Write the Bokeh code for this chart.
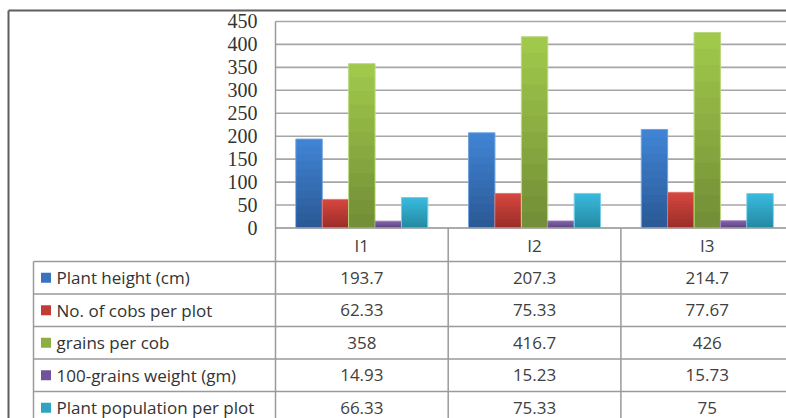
from bokeh.plotting import figure
from bokeh.models import Range1d, ColumnDataSource
from bokeh.core.properties import value
from bokeh.embed import file_html
from bokeh.resources import INLINE

# ---------------- data ----------------
categories = ["I1", "I2", "I3"]
series_names = ["Plant height (cm)", "No. of cobs per plot", "grains per cob",
                "100-grains weight (gm)", "Plant population per plot"]
plant_height = [193.7, 207.3, 214.7]
cobs_per_plot = [62.33, 75.33, 77.67]
grains_per_cob = [358, 416.7, 426]
grain_weight_100 = [14.93, 15.23, 15.73]
plant_population = [66.33, 75.33, 75]
y_ticks = [0, 50, 100, 150, 200, 250, 300, 350, 400, 450]

series_values = [plant_height, cobs_per_plot, grains_per_cob, grain_weight_100, plant_population]

# ---------------- styles ----------------
top_colors = ["#4083d3", "#d4463f", "#a0c84b", "#8262a8", "#38b9dc"]
bottom_colors = ["#2b5a97", "#9c2e29", "#738f37", "#5f4482", "#258aa3"]
edge_colors = ["#6fa0dc", "#dd7772", "#b9d77e", "#a088c0", "#78cde6"]
legend_colors = ["#3a72bf", "#c23b36", "#8cae43", "#71539a", "#30a3c3"]

# ---------------- layout (page pixels) ----------------
FIG_W, FIG_H = 786, 418
PAGE_L, PAGE_T = 0, 0
X0 = 275.0       # page x of category-axis start
PX_X = 172.7     # pixels per category
Y0 = 227.5       # page y of value 0
PX_Y = 0.459     # pixels per value unit
BAR_W = 26.4 / PX_X
HEADER_Y = 244.5
ROW_TOP = 261.0
ROW_H = 32.5


def dx(px):
    return (px - X0) / PX_X


def dy(py):
    return (Y0 - py) / PX_Y


x_lo, x_hi = dx(PAGE_L), dx(PAGE_L + FIG_W)
y_lo, y_hi = dy(PAGE_T + FIG_H), dy(PAGE_T)

p = figure(width=FIG_W, height=FIG_H, output_backend="svg", toolbar_location=None,
           x_range=Range1d(x_lo, x_hi), y_range=Range1d(y_lo, y_hi),
           x_axis_location=None, y_axis_location=None, min_border=0,
           outline_line_color=None, background_fill_color="white")
p.grid.visible = False

GRID = "#a6a6a6"
TABLE = "#9a9a9a"

# gridlines
p.segment(x0=0, x1=x_hi, y0=y_ticks, y1=y_ticks, line_color=GRID, line_width=1.6)

# y tick labels
p.text(x=[dx(257)] * len(y_ticks), y=y_ticks, text=[str(t) for t in y_ticks],
       text_align="right", text_baseline="middle", text_font=value("Liberation Serif"),
       text_font_size="20px", text_color="#333333")


def lerp(c1, c2, t):
    a = [int(c1[i:i + 2], 16) for i in (1, 3, 5)]
    b = [int(c2[i:i + 2], 16) for i in (1, 3, 5)]
    return "#%02x%02x%02x" % tuple(round(a[k] + (b[k] - a[k]) * t) for k in range(3))


# bars with vertical gradient (layered)
N = 12
for j, vals in enumerate(series_values):
    xs = [i + 0.5 + (j - 2) * BAR_W for i in range(len(categories))]
    for k in range(N):
        frac = (N - k) / N
        src = ColumnDataSource(dict(x=xs, top=[v * frac for v in vals]))
        if k == 0:
            p.vbar(x="x", top="top", bottom=0, width=BAR_W, source=src,
                   fill_color=top_colors[j], line_color=edge_colors[j], line_width=1)
        else:
            p.vbar(x="x", top="top", bottom=0, width=BAR_W * 0.93, source=src,
                   fill_color=lerp(top_colors[j], bottom_colors[j], k / (N - 1)),
                   line_color=None)

# zero axis line
p.segment(x0=[0], x1=[x_hi], y0=[0], y1=[0], line_color=GRID, line_width=1.6)

# table lines
n_rows = len(series_names)
row_lines = [dy(ROW_TOP + r * ROW_H) for r in range(n_rows)]
p.segment(x0=[dx(33)] * n_rows, x1=[x_hi] * n_rows, y0=row_lines, y1=row_lines,
          line_color=TABLE, line_width=1.5)
p.segment(x0=[dx(33)], x1=[dx(33)], y0=[dy(ROW_TOP)], y1=[y_lo], line_color=TABLE, line_width=1.5)
p.segment(x0=[0], x1=[0], y0=[450], y1=[y_lo], line_color=TABLE, line_width=1.5)
p.segment(x0=[1, 2], x1=[1, 2], y0=[0, 0], y1=[y_lo, y_lo], line_color=TABLE, line_width=1.5)

# outer chart border (top and left visible)
p.segment(x0=[dx(8), dx(8)], x1=[x_hi, dx(8)], y0=[dy(10), dy(10)], y1=[dy(10), y_lo],
          line_color="#5e5e5e", line_width=2)

# category header labels
p.text(x=[i + 0.5 for i in range(len(categories))], y=[dy(HEADER_Y)] * len(categories),
       text=categories, text_align="center", text_baseline="middle",
       text_font=value("Open Sans"), text_font_size="17px", text_color="#404040")

# legend column
row_centers = [dy(ROW_TOP + (r + 0.5) * ROW_H) for r in range(n_rows)]
p.scatter(x=[dx(45.5)] * n_rows, y=row_centers, marker="square", size=10,
          fill_color=legend_colors, line_color=None)
p.text(x=[dx(56)] * n_rows, y=row_centers, text=series_names, text_align="left",
       text_baseline="middle", text_font=value("Open Sans"), text_font_size="17px",
       text_color="#333333")

# values
for r, vals in enumerate(series_values):
    p.text(x=[i + 0.5 for i in range(len(categories))], y=[row_centers[r]] * len(vals),
           text=[str(v) for v in vals], text_align="center", text_baseline="middle",
           text_font=value("Open Sans"), text_font_size="17px", text_color="#404040")

open("out.html", "w").write(file_html(p, INLINE))
